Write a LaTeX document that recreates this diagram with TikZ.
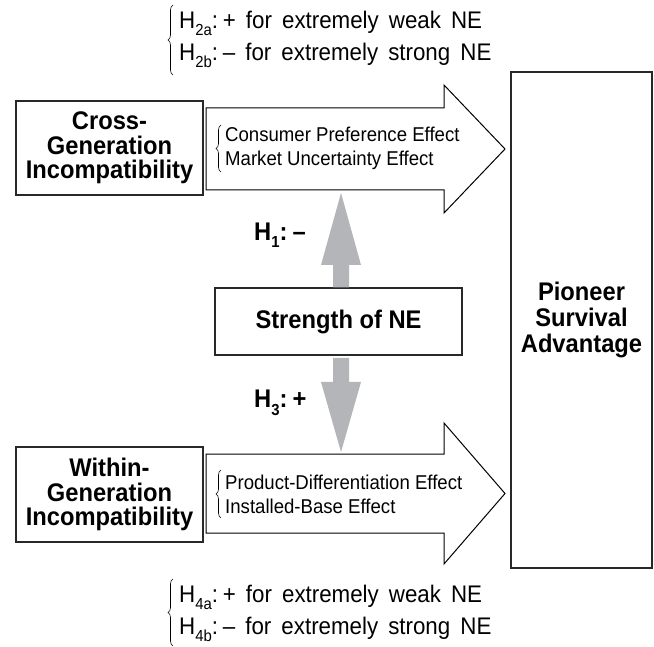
\documentclass[tikz,border=0pt]{standalone}
\usepackage{fontspec}
\setmainfont[FakeStretch=0.93]{Liberation Sans}
\usetikzlibrary{decorations.pathreplacing}
\definecolor{arrowgray}{RGB}{180,181,184}
\definecolor{boxline}{RGB}{40,40,40}
\newcommand{\sbs}[1]{\raisebox{-0.55ex}{\fontsize{16}{16}\selectfont #1}}
\newcommand{\hypfont}{\fontsize{24}{32}\selectfont\spaceskip=0.42em\relax}
\newcommand{\csp}{\hspace{0.2em}}
\tikzset{
  lab/.style={font=\fontsize{25.5}{24.5}\selectfont\bfseries, align=center, inner sep=0},
  eff/.style={font=\fontsize{20}{24}\selectfont, align=left, inner sep=0, anchor=west},
  hyp/.style={font=\hypfont, align=left, inner sep=0, anchor=west},
  boxed/.style={draw=boxline, line width=1.3pt, inner sep=0},
  bigarrow/.style={draw=black, line width=1pt, fill=white, line join=miter},
  grayarrow/.style={fill=arrowgray, draw=none},
  brc/.style={decorate, decoration={brace, amplitude=5pt}, line width=0.6pt}
}
\begin{document}
\begin{tikzpicture}[x=1pt,y=-1pt]
\useasboundingbox (0,0) rectangle (654,647);
% boxes
\node[boxed, minimum width=187, minimum height=94] (cross) at (109.5,148) {};
\node[lab] (crosst) at (cross.center) {Cross-\\Generation\\Incompatibility};
\node[boxed, minimum width=187, minimum height=95] (within) at (109.5,494.5) {};
\node[lab] (withint) at (within.center) {Within-\\Generation\\Incompatibility};
\node[boxed, minimum width=141, minimum height=496] (pioneer) at (581.5,320) {};
\node[lab, font=\fontsize{25.5}{26}\selectfont\bfseries] (pioneert) at (pioneer.center) {Pioneer\\Survival\\Advantage};
\node[boxed, minimum width=247, minimum height=67] (strength) at (338.5,321.5) {};
\node[lab] (strengtht) at (strength.center) {Strength of NE};
% big arrows
\coordinate (topstart) at (206,108);
\coordinate (botstart) at (206,454);
\draw[bigarrow] (topstart) -- (444,108) -- (444,85) -- (505,149) -- (444,213) -- (444,190) -- (206,190) -- cycle;
\draw[bigarrow] (botstart) -- (444,454) -- (444,423) -- (505,493.5) -- (444,564) -- (444,533) -- (206,533) -- cycle;
% gray arrows
\fill[grayarrow] (strength.north -| 333,0) -- (333,265) -- (321,265) -- (341,193) -- (361,265) -- (349,265) -- (strength.north -| 349,0) -- cycle;
\fill[grayarrow] (333,358) -- (333,382) -- (321,382) -- (341,452) -- (361,382) -- (349,382) -- (349,358) -- cycle;
\node[lab, anchor=west] (h1) at (254,235) {H\sbs{1}:\csp–};
\node[lab, anchor=west] (h3) at (254,403) {H\sbs{3}:\csp+};
% effects
\node[eff] (efftop) at (225,148.5) {Consumer Preference Effect\\Market Uncertainty Effect};
\draw[brc] (221,172) -- (221,125);
\node[eff] (effbot) at (225,494) {Product-Differentiation Effect\\Installed-Base Effect};
\draw[brc] (221,518) -- (221,470);
% hypotheses
\node[hyp] (hyptop) at (179,39) {H\sbs{2a}:\csp+ for extremely weak NE\\H\sbs{2b}:\csp– for extremely strong NE};
\draw[brc] (173,75) -- (173,5);
\node[hyp] (hypbot) at (179,613) {H\sbs{4a}:\csp+ for extremely weak NE\\H\sbs{4b}:\csp– for extremely strong NE};
\draw[brc] (173,646) -- (173,579);
\end{tikzpicture}
\end{document}
